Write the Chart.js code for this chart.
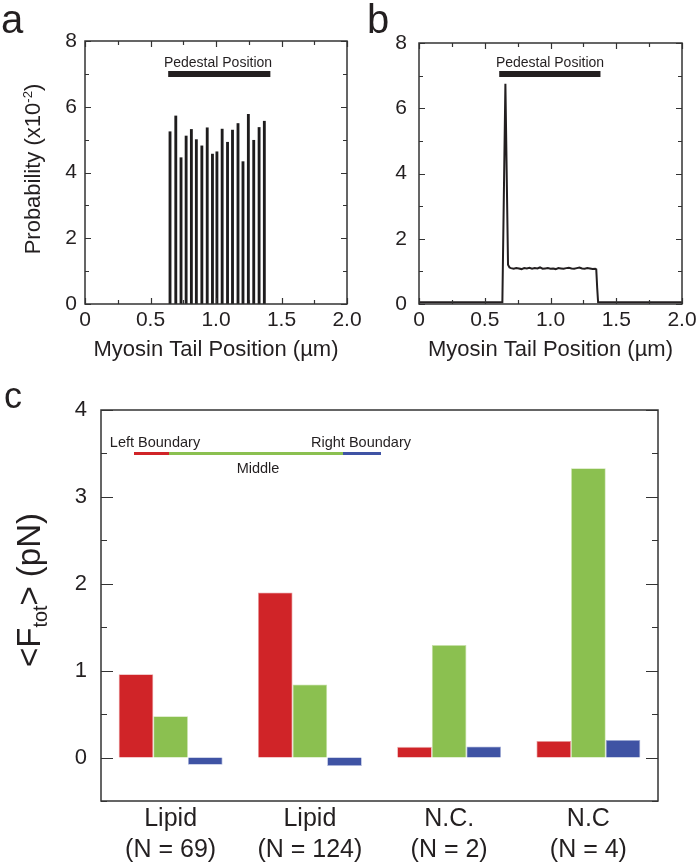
<!DOCTYPE html>
<html>
<head>
<meta charset="utf-8">
<script src="https://cdn.jsdelivr.net/npm/chart.js@4.4.1/dist/chart.umd.min.js"></script>
<style>
  html, body { margin: 0; padding: 0; background: #fff; }
  body { width: 697px; height: 865px; position: relative; overflow: hidden; }
  canvas { position: absolute; }
  .t { position: absolute; white-space: nowrap; line-height: 1; color: #231f20;
       font-family: 'Liberation Sans', Arial, Helvetica, sans-serif; transform: translate(-50%, -50%); }
  .rot { transform: translate(-50%, -50%) rotate(-90deg); }
  .seg { position: absolute; height: 3px; }
  sup, sub { font-size: 0.6em; line-height: 0; }
</style>
</head>
<body>
<canvas id="ca" width="370" height="370" style="left:0;top:0"></canvas>
<canvas id="cb" width="347" height="370" style="left:350px;top:0"></canvas>
<canvas id="cc" width="697" height="495" style="left:0;top:370px"></canvas>

<div class="t" style="left:12px;top:19px;font-size:40px">a</div>
<div class="t" style="left:378px;top:19px;font-size:40px">b</div>
<div class="t" style="left:13px;top:396px;font-size:36px">c</div>

<div class="t rot" style="left:33px;top:169px;font-size:22px">Probability (x10<sup>-2</sup>)</div>
<div class="t" style="left:218px;top:62px;font-size:14px">Pedestal Position</div>
<div class="t" style="left:550px;top:62px;font-size:14px">Pedestal Position</div>

<div class="t rot" style="left:28px;top:590px;font-size:33px">&lt;F<sub>tot</sub>&gt; (pN)</div>
<div class="t" style="left:155px;top:442px;font-size:14.5px">Left Boundary</div>
<div class="t" style="left:361px;top:442px;font-size:14.5px">Right Boundary</div>
<div class="t" style="left:258px;top:468px;font-size:14.5px">Middle</div>
<div class="seg" style="left:134px;width:35px;top:452px;background:#d02428"></div>
<div class="seg" style="left:169px;width:174px;top:452px;background:#8bc050"></div>
<div class="seg" style="left:343px;width:38px;top:452px;background:#3f53a4"></div>

<script>
// ---------- Panel a: spike histogram ----------
const spikeX = [0.649,0.693,0.733,0.772,0.812,0.850,0.892,0.933,0.973,1.007,1.047,1.088,1.126,1.168,1.206,1.247,1.288,1.329,1.369];
const spikeY = [5.24,5.72,4.45,5.11,5.31,5.00,4.81,5.36,4.56,4.63,5.32,4.92,5.29,5.49,4.33,5.77,4.98,5.37,5.56];
const pedAX = [0.635, 1.415];
const pedAY = [7.0, 7.0];

// ---------- Panel b: continuous distribution ----------
const bX = [0,0.5,0.634,0.657,0.677,0.688,
  0.70,0.72,0.74,0.76,0.78,0.80,0.82,0.84,0.86,0.88,0.90,0.92,0.94,0.96,0.98,1.00,1.02,1.04,1.06,1.08,
  1.10,1.12,1.14,1.16,1.18,1.20,1.22,1.24,1.26,1.28,1.30,1.32,1.34,
  1.348,1.355,1.362,1.6,2.0];
const bY = [0.05,0.05,0.05,6.75,1.2,1.12,
  1.10,1.08,1.10,1.09,1.07,1.10,1.09,1.11,1.08,1.10,1.09,1.12,1.08,1.09,1.10,1.08,1.09,1.07,1.10,1.09,
  1.08,1.10,1.11,1.09,1.08,1.10,1.12,1.09,1.08,1.10,1.09,1.07,1.08,
  1.06,0.5,0.05,0.05,0.05];
const pedBX = [0.61, 1.38];
const pedBY = [7.05, 7.05];

// ---------- shared tick labels ----------
const xTickLabels = {0:'0', 0.5:'0.5', 1:'1.0', 1.5:'1.5', 2:'2.0'};
const yTickLabelsAB = {0:'0', 2:'2', 4:'4', 6:'6', 8:'8'};

// ---------- Panel c: bar chart ----------
const categories = [['Lipid','(N = 69)'],['Lipid','(N = 124)'],['N.C.','(N = 2)'],['N.C','(N = 4)']];
const leftBoundary = [0.96, 1.90, 0.123, 0.19];
const middle = [0.476, 0.84, 1.294, 3.33];
const rightBoundary = [-0.084, -0.096, 0.127, 0.203];
const yTickLabelsC = {0:'0', 1:'1', 2:'2', 3:'3', 4:'4'};

const TXT = '#231f20';
const FONT = "'Liberation Sans', Arial, Helvetica, sans-serif";
const RED = '#d02428', GREEN = '#8bc050', BLUE = '#3f53a4';

function zip(xs, ys) { return xs.map((x, i) => ({x, y: ys[i]})); }
function lookup(map) {
  return v => { const k = Math.round(v * 100) / 100; return (k in map) ? map[k] : ''; };
}

const boxTicks = {
  id: 'boxTicks',
  afterDraw(chart, args, o) {
    const {ctx, chartArea: a} = chart;
    const xs = chart.scales.x, ys = chart.scales.y;
    ctx.save();
    ctx.strokeStyle = o.color;
    ctx.lineWidth = o.tickWidth;
    ctx.beginPath();
    const isMajor = (v, m) => Math.abs(v / m - Math.round(v / m)) < 1e-6;
    if (o.yStep) {
      for (let i = 0; ; i++) {
        const v = ys.min + i * o.yStep;
        if (v > ys.max + 1e-9) break;
        const p = Math.round(ys.getPixelForValue(v)) + 0.5;
        const L = isMajor(v, o.yMajor) ? o.majorLen : o.minorLen;
        ctx.moveTo(a.left, p); ctx.lineTo(a.left + L, p);
        ctx.moveTo(a.right, p); ctx.lineTo(a.right - L, p);
      }
    }
    if (o.xStep) {
      for (let i = 0; ; i++) {
        const v = xs.min + i * o.xStep;
        if (v > xs.max + 1e-9) break;
        const p = Math.round(xs.getPixelForValue(v)) + 0.5;
        const L = isMajor(v, o.xMajor) ? o.majorLen : o.minorLen;
        ctx.moveTo(p, a.bottom); ctx.lineTo(p, a.bottom - L);
        ctx.moveTo(p, a.top); ctx.lineTo(p, a.top + L);
      }
    }
    ctx.stroke();
    ctx.lineWidth = o.frameWidth;
    ctx.strokeRect(a.left, a.top, a.right - a.left, a.bottom - a.top);
    ctx.restore();
  }
};

function abScales(yWidth, yPad, xTitle) {
  return {
    x: {
      type: 'linear', min: 0, max: 2, offset: false,
      grid: {display: false, drawTicks: false, offset: false},
      border: {display: false},
      ticks: {stepSize: 0.25, autoSkip: false, maxRotation: 0, padding: 4, color: TXT,
              font: {family: FONT, size: 21}, callback: lookup(xTickLabels)},
      title: {display: true, text: xTitle, color: TXT, font: {family: FONT, size: 22},
              padding: {top: 0, bottom: 7}},
      afterFit: s => { s.height = 66; s.paddingLeft = 0; s.paddingRight = 0; }
    },
    y: {
      min: 0, max: 8,
      grid: {display: false, drawTicks: false},
      border: {display: false},
      ticks: {stepSize: 1, autoSkip: false, padding: yPad, color: TXT,
              font: {family: FONT, size: 21}, callback: lookup(yTickLabelsAB)},
      afterFit: s => { s.width = yWidth; }
    }
  };
}
const abTicks = {color: '#333', tickWidth: 1.2, frameWidth: 1.5, xStep: 0.25, xMajor: 0.5,
                 yStep: 1, yMajor: 2, majorLen: 6, minorLen: 4};

Chart.defaults.font.family = FONT;

new Chart(document.getElementById('ca'), {
  type: 'bar',
  data: {
    datasets: [
      {type: 'bar', data: zip(spikeX, spikeY), backgroundColor: '#1e1c1d', barThickness: 2.2, grouped: false},
      {type: 'line', data: zip(pedAX, pedAY), borderColor: '#231f20', borderWidth: 6,
       pointRadius: 0, borderCapStyle: 'butt'}
    ]
  },
  options: {
    responsive: false, animation: false, devicePixelRatio: 1,
    layout: {padding: {top: 41, right: 23, left: 0, bottom: 0}},
    plugins: {legend: {display: false}, tooltip: {enabled: false}, boxTicks: abTicks},
    scales: abScales(85, 8, 'Myosin Tail Position (µm)')
  },
  plugins: [boxTicks]
});

new Chart(document.getElementById('cb'), {
  type: 'line',
  data: {
    datasets: [
      {data: zip(bX, bY), borderColor: '#231f20', borderWidth: 2, pointRadius: 0, tension: 0},
      {data: zip(pedBX, pedBY), borderColor: '#231f20', borderWidth: 6, pointRadius: 0, borderCapStyle: 'butt'}
    ]
  },
  options: {
    responsive: false, animation: false, devicePixelRatio: 1,
    layout: {padding: {top: 43, right: 15, left: 0, bottom: 0}},
    plugins: {legend: {display: false}, tooltip: {enabled: false}, boxTicks: abTicks},
    scales: abScales(69, 12, 'Myosin Tail Position (µm)')
  },
  plugins: [boxTicks]
});

new Chart(document.getElementById('cc'), {
  type: 'bar',
  data: {
    labels: categories,
    datasets: [
      {label: 'Left Boundary', data: leftBoundary, backgroundColor: RED, borderColor: '#e8a0a2', borderWidth: 0.8},
      {label: 'Middle', data: middle, backgroundColor: GREEN, borderColor: '#c6e0a8', borderWidth: 0.8},
      {label: 'Right Boundary', data: rightBoundary, backgroundColor: BLUE, borderColor: '#a6b0d8', borderWidth: 0.8}
    ]
  },
  options: {
    responsive: false, animation: false, devicePixelRatio: 1,
    categoryPercentage: 0.746, barPercentage: 1,
    layout: {padding: {top: 40, right: 39, left: 0, bottom: 0}},
    plugins: {legend: {display: false}, tooltip: {enabled: false},
      boxTicks: {color: '#333', tickWidth: 1.2, frameWidth: 1.5, yStep: 0.5, yMajor: 1, majorLen: 12, minorLen: 6}},
    scales: {
      x: {
        grid: {display: false, drawTicks: false},
        border: {display: false},
        ticks: {color: TXT, font: {family: FONT, size: 25, lineHeight: 1.25}, padding: 2, maxRotation: 0, autoSkip: false},
        afterFit: s => { s.height = 64; }
      },
      y: {
        min: -0.5, max: 4,
        grid: {display: false, drawTicks: false},
        border: {display: false},
        ticks: {stepSize: 0.5, autoSkip: false, padding: 14, color: TXT,
                font: {family: FONT, size: 22}, callback: lookup(yTickLabelsC)},
        afterFit: s => { s.width = 101; }
      }
    }
  },
  plugins: [boxTicks]
});
</script>
</body>
</html>
